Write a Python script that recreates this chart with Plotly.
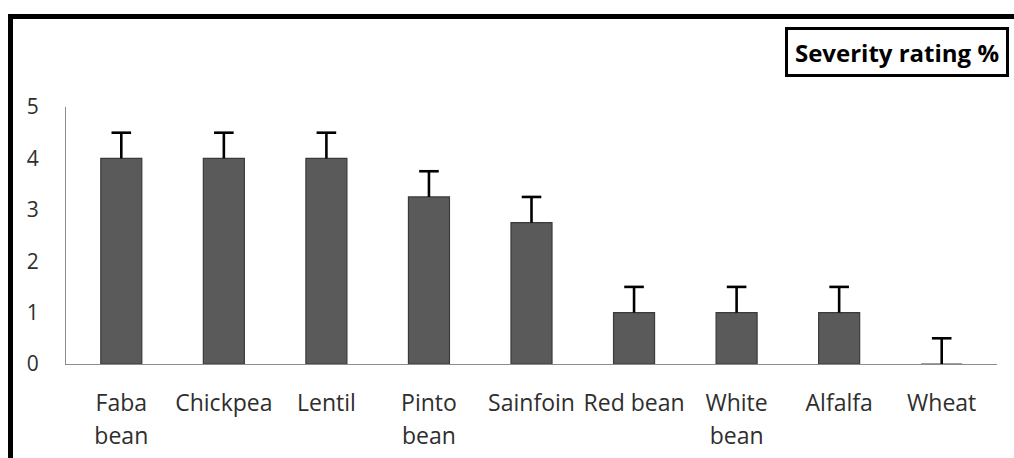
import plotly.graph_objects as go

categories = ["Faba<br>bean", "Chickpea", "Lentil", "Pinto<br>bean", "Sainfoin",
              "Red bean", "White<br>bean", "Alfalfa", "Wheat"]
severity = [4, 4, 4, 3.25, 2.75, 1, 1, 1, 0]
error_plus = [0.5, 0.5, 0.5, 0.5, 0.5, 0.5, 0.5, 0.5, 0.5]
y_ticks = [0, 1, 2, 3, 4, 5]
legend_title = "Severity rating %"

W, H = 1014, 458
L, R, T, B = 66, 17, 107, 94
pw, ph = W - L - R, H - T - B

def px_to_paper_x(px):
    return (px - L) / pw

def px_to_paper_y(py):
    return (H - B - py) / ph

ticktext = ["<br>".join(f"<span style='font-size:23px'>{p}</span>" for p in c.split("<br>"))
            for c in categories]

# error bar stems (upper only) built from the data arrays
seg_x, seg_y = [], []
for c, v, e in zip(categories, severity, error_plus):
    seg_x += [c, c, None]
    seg_y += [v, v + e, None]
cap_y = [v + e for v, e in zip(severity, error_plus)]

fig = go.Figure()
fig.add_trace(go.Bar(
    x=categories,
    y=severity,
    width=0.4,
    marker=dict(color="#5a5a5a", line=dict(color="#3a3a3a", width=1.2)),
    showlegend=False,
    hoverinfo="skip",
))
fig.add_trace(go.Scatter(
    x=seg_x, y=seg_y, mode="lines",
    line=dict(color="black", width=2.6),
    showlegend=False, hoverinfo="skip", cliponaxis=False,
))
fig.add_trace(go.Scatter(
    x=categories, y=cap_y, mode="markers",
    marker=dict(symbol="line-ew", size=14, line=dict(color="black", width=2.6)),
    showlegend=False, hoverinfo="skip", cliponaxis=False,
))

fig.update_layout(
    width=W, height=H,
    margin=dict(l=L, r=R, t=T, b=B, autoexpand=False),
    paper_bgcolor="white",
    plot_bgcolor="white",
    font=dict(family="Open Sans", color="#2e2e2e"),
    xaxis=dict(
        tickmode="array", tickvals=categories, ticktext=ticktext,
        tickfont=dict(size=25, family="Open Sans", color="#2e2e2e"),
        showline=True, linecolor="#8c8c8c", linewidth=1.2,
        showgrid=False, ticks="", ticklabelstandoff=16, automargin=False,
    ),
    yaxis=dict(
        range=[0, 5], tickvals=y_ticks,
        tickfont=dict(size=21, family="Open Sans", color="#2e2e2e"),
        showline=True, linecolor="#8c8c8c", linewidth=1.2,
        showgrid=False, zeroline=False, ticks="", ticklabelstandoff=22, automargin=False,
    ),
    shapes=[
        dict(type="rect", xref="paper", yref="paper",
             x0=px_to_paper_x(10.5), x1=px_to_paper_x(1040),
             y0=px_to_paper_y(520), y1=px_to_paper_y(16.5),
             line=dict(color="black", width=5), fillcolor="rgba(0,0,0,0)", layer="above"),
    ],
    annotations=[
        dict(text=f"<b>{legend_title}</b>", xref="paper", yref="paper",
             x=px_to_paper_x(896.5), y=px_to_paper_y(52), xanchor="center", yanchor="middle",
             showarrow=False, font=dict(size=24, family="Open Sans", color="black"),
             bordercolor="black", borderwidth=3, borderpad=0, width=218, height=44,
             bgcolor="white"),
    ],
)

fig.write_html(
    "out.html",
    config={"displayModeBar": False},
    post_script="document.body.style.margin='0';document.body.style.overflow='hidden';",
)
